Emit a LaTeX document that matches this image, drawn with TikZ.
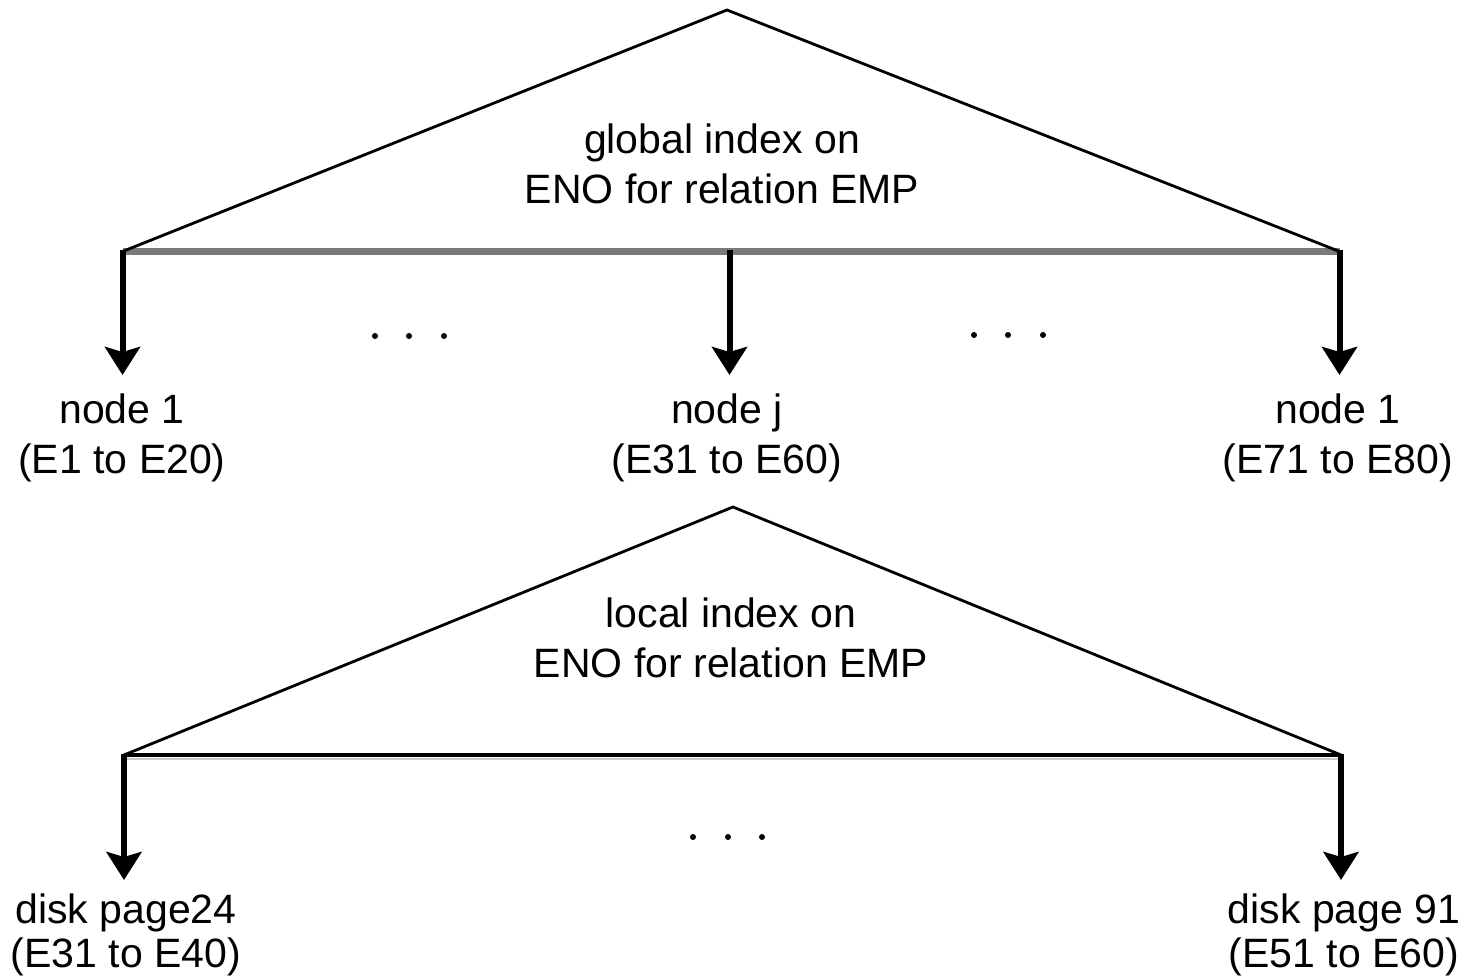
\documentclass[tikz,border=0pt]{standalone}
\usepackage{fontspec}
\setmainfont{Liberation Sans}
\usetikzlibrary{arrows.meta}

\definecolor{basegray}{HTML}{7A7A7A}

\tikzset{
  side/.style={line width=1.4pt, line join=miter, black},
  toplink/.style={line width=3.5pt, basegray},
  botlink/.style={line width=2.2pt, black},
  down/.style={line width=3pt, black, -{Stealth[length=14pt,width=17.5pt,inset=2.5pt]}},
  idxtext/.style={font=\fontsize{20.5}{25}\selectfont, align=center, inner sep=0pt, anchor=north},
  lbl/.style={font=\fontsize{20.5}{25}\selectfont, align=center, inner sep=0pt, anchor=north},
  disklbl/.style={lbl, font=\fontsize{20.5}{22}\selectfont},
  dot/.style={black},
}

\begin{document}
\begin{tikzpicture}[x=0.5pt, y=-0.5pt]
  \useasboundingbox (0,0) rectangle (1468,978);

  % global index triangle
  \coordinate (gApex) at (727,10);
  \coordinate (gL) at (122.5,251.5);
  \coordinate (gM) at (729.5,251.5);
  \coordinate (gR) at (1339.5,251.5);
  \draw[toplink] (gL) -- (gR);
  \draw[side] (gL) -- (gApex) -- (gR);
  \node[idxtext] (gText) at (722,123) {global index on\\ENO for relation EMP};

  % site labels (text starts 9pt below the arrow tips)
  \node[lbl, yshift=-9pt] (n1) at (122,375) {node 1\\(E1 to E20)};
  \node[lbl, yshift=-9pt] (nj) at (727,375) {node j\\(E31 to E60)};
  \node[lbl, yshift=-9pt] (nk) at (1338,375) {node 1\\(E71 to E80)};

  \draw[down] ([yshift=0.8pt]gL) -- ([yshift=9pt]gL |- n1.north);
  \draw[down] ([yshift=0.8pt]gM) -- ([yshift=9pt]gM |- nj.north);
  \draw[down] ([yshift=0.8pt]gR) -- ([yshift=9pt]gR |- nk.north);

  % ellipses between sites
  \foreach \x in {375,409,444} \fill[dot] (\x,336) circle (1.5pt);
  \foreach \x in {974,1008,1043} \fill[dot] (\x,335) circle (1.5pt);

  % local index triangle
  \coordinate (lApex) at (733,507);
  \coordinate (lL) at (124,755);
  \coordinate (lR) at (1341,755);
  \draw[line width=1pt, gray!40] ([yshift=-2pt]lL) -- ([yshift=-2pt]lR);
  \draw[botlink] (lL) -- (lR);
  \draw[side] (lL) -- (lApex) -- (lR);
  \node[idxtext] (lText) at (731,597) {local index on\\ENO for relation EMP};

  % disk page labels (text starts 6.5pt below the arrow tips)
  \node[disklbl, yshift=-6.5pt] (d1) at (126,880) {disk page24\\(E31 to E40)};
  \node[disklbl, yshift=-6.5pt] (d2) at (1344,880) {disk page 91\\(E51 to E60)};

  \draw[down] ([yshift=0.6pt]lL) -- ([yshift=6.5pt]lL |- d1.north);
  \draw[down] ([yshift=0.6pt]lR) -- ([yshift=6.5pt]lR |- d2.north);

  \foreach \x in {693,728,762} \fill[dot] (\x,837) circle (1.5pt);
\end{tikzpicture}
\end{document}
